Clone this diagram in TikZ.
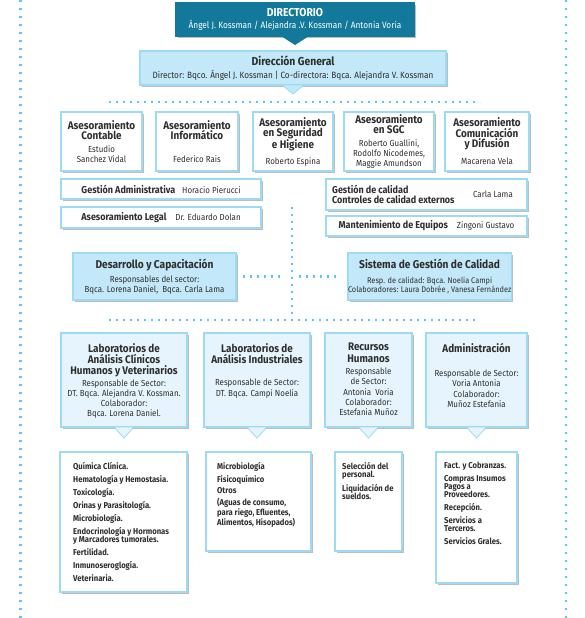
\documentclass[tikz,border=0pt]{standalone}
\usepackage{fontspec}
\setmainfont{Fira Sans}[FakeStretch=0.9]
\usetikzlibrary{positioning,shadows}

\definecolor{dirteal}{HTML}{12799B}
\definecolor{genblue}{HTML}{C3E8F9}
\definecolor{labblue}{HTML}{E6F5FD}
\definecolor{edgeblue}{HTML}{9DDAF4}
\definecolor{dotblue}{HTML}{5DC5F1}
\definecolor{inkgray}{HTML}{2E2E2E}
\definecolor{shadegray}{HTML}{BDBDBD}

\newcommand{\boxtitle}{\fontsize{11}{10.5}\selectfont\bfseries}
\newcommand{\bandtitle}{\fontsize{10}{10.5}\selectfont\bfseries}
\newcommand{\bigtitle}{\fontsize{11.3}{11}\selectfont\bfseries}
\newcommand{\smalltext}{\fontsize{8.2}{9.5}\selectfont}
\newcommand{\listfont}{\fontsize{8.5}{7.8}\selectfont\bfseries\lineskiplimit=-6pt\relax}

\tikzset{
    cardbox/.style = {anchor=north west, draw=edgeblue, line width=1.2pt, fill=white, align=center,
        inner sep=0pt, outer sep=0pt, text=inkgray, font=\fontsize{8.8}{10.3}\selectfont,
        drop shadow={shadow xshift=1.8pt, shadow yshift=-1.8pt, fill=shadegray, opacity=1}},
    headbox/.style = {cardbox, fill=genblue, draw=edgeblue},
    topbox/.style = {cardbox, fill=dirteal, draw=dirteal, text=white},
    labbox/.style = {cardbox, fill=labblue},
    cardtext/.style = {inner sep=0pt, align=center, text=inkgray, font=\fontsize{8.8}{10.3}\selectfont},
    listtext/.style = {anchor=north west, inner sep=0pt, align=left, text=inkgray, font=\listfont},
    dotrule/.style = {draw=dotblue, line width=2.4pt, dash pattern=on 2.4pt off 4.6pt},
    railrule/.style = {draw=dotblue, line width=2.4pt, dash pattern=on 2.4pt off 5.6pt},
    tip/.style = {fill=genblue, draw=edgeblue, line width=0.8pt}
}

\begin{document}
\begin{tikzpicture}[x=1pt, y=-1pt]
\useasboundingbox (0,0) rectangle (585,618);

% side rails
\coordinate (railwt) at (20.5,0);
\coordinate (railwb) at (20.5,618);
\coordinate (railet) at (566,0);
\coordinate (raileb) at (566,618);
\draw[railrule] (railwt) -- (railwb);
\draw[railrule] (railet) -- (raileb);

% directorio and general management
\node[topbox, minimum width=238pt, minimum height=33pt, font=\fontsize{9.2}{10}\selectfont] (dir) at (176,3) {{\fontsize{11.5}{11}\selectfont\bfseries DIRECTORIO}\\[2.5pt]Ángel J. Kossman / Alejandra .V. Kossman / Antonia Voria};
\fill[dirteal] ([xshift=-14pt]dir.south) -- ([xshift=14pt]dir.south) -- ([yshift=-9pt]dir.south) -- cycle;

\node[headbox, minimum width=306pt, minimum height=34pt, font=\fontsize{9.1}{10}\selectfont] (gen) at (140,51) {{\fontsize{11.5}{11}\selectfont\bfseries Dirección General}\\[3pt]Director: Bqco. Ángel J. Kossman | Co-directora: Bqca. Alejandra V. Kossman};
\filldraw[tip] ([xshift=-11pt]gen.south) -- ([xshift=11pt]gen.south) -- ([yshift=-9pt]gen.south) -- cycle;

% top bar
\coordinate (barw) at (109,102);
\coordinate (bare) at (480,102);
\draw[dotrule] (barw) -- (bare);

% advisers
\node[cardbox, minimum width=81pt, minimum height=59pt] (cont) at (61,112) {{\boxtitle Asesoramiento}\\{\boxtitle Contable}\\[2.5pt]Estudio\\Sanchez Vidal};
\node[cardbox, minimum width=82pt, minimum height=59pt] (info) at (156,112) {{\boxtitle Asesoramiento}\\{\boxtitle Informático}\\[12.5pt]Federico Rais};
\node[cardbox, minimum width=80pt, minimum height=59pt] (seg) at (253,112) {{\boxtitle Asesoramiento}\\{\boxtitle en Seguridad}\\{\boxtitle e Higiene}\\[5pt]Roberto Espina};
\node[cardbox, minimum width=90pt, minimum height=59pt] (sgc) at (344,112) {{\boxtitle Asesoramiento}\\{\boxtitle en SGC}\\[2pt]Roberto Guallini,\\Rodolfo Nicodemes,\\Maggie Amundson};
\node[cardbox, minimum width=84pt, minimum height=59pt] (com) at (445,112) {{\boxtitle Asesoramiento}\\{\boxtitle Comunicación}\\{\boxtitle y Difusión}\\[7pt]Macarena Vela};

% management, legal, quality, upkeep
\node[cardbox, minimum width=200pt, minimum height=20pt] (gadm) at (61,179) {{\bandtitle Gestión Administrativa}\hspace{7pt}Horacio Pierucci};
\node[cardbox, minimum width=200pt, minimum height=21pt] (legal) at (61,207) {{\bandtitle Asesoramiento Legal}\hspace{9pt}Dr. Eduardo Dolan};
\node[cardbox, minimum width=201pt, minimum height=31pt] (gcal) at (326,179) {};
\node[cardtext, anchor=west, align=left] (gcal-name) at ([xshift=6pt]gcal.west) {{\bandtitle Gestión de calidad}\\[0.5pt]{\bandtitle Controles de calidad externos}};
\node[cardtext, anchor=east] (gcal-resp) at ([xshift=-14pt]gcal.east) {Carla Lama};
\node[cardbox, minimum width=201pt, minimum height=20pt] (mant) at (326,216) {{\bandtitle Mantenimiento de Equipos}\hspace{9pt}Zingoni Gustavo};

% spine and the two staff units
\coordinate (spinet) at (292,207);
\coordinate (spineb) at (292,315);
\draw[dotrule] (spinet) -- (spineb);

\node[headbox, minimum width=163pt, minimum height=47pt] (des) at (73,253) {{\bigtitle Desarrollo y Capacitación}\\[4pt]Responsables del sector:\\[-1pt]Bqca. Lorena Daniel,\ \ Bqca. Carla Lama};
\node[headbox, minimum width=163pt, minimum height=47pt, font=\smalltext] (sis) at (348,253) {{\bigtitle Sistema de Gestión de Calidad}\\[5pt]Resp. de calidad: Bqca. Noelia Campi\\Colaboradores: Laura Dobrée , Vanesa Fernández};
\draw[dotrule, shorten <=7pt, shorten >=7pt] (des.east) -- (des.east -| spinet);
\draw[dotrule, shorten <=7pt, shorten >=7pt] (sis.west -| spinet) -- (sis.west);

% lower bar
\coordinate (lbarw) at (109,320);
\coordinate (lbare) at (480,320);
\draw[dotrule] (lbarw) -- (lbare);

% departments
\node[labbox, minimum width=126pt, minimum height=94pt] (lab) at (61,333) {};
\node[cardtext, anchor=north] (lab-txt) at ([yshift=-10pt]lab.north) {{\boxtitle Laboratorios de}\\[1pt]{\boxtitle Análisis Clínicos}\\[1pt]{\boxtitle Humanos y Veterinarios}\\[1.5pt]Responsable de Sector:\\DT. Bqca. Alejandra V. Kossman.\\[-1pt]Colaborador:\\Bqca. Lorena Daniel.};
\node[labbox, minimum width=106pt, minimum height=94pt] (ind) at (204,333) {};
\node[cardtext, anchor=north] (ind-txt) at ([yshift=-10pt]ind.north) {{\boxtitle Laboratorios de}\\[1pt]{\boxtitle Análisis Industriales}\\[12pt]Responsable de Sector:\\DT. Bqca. Campi Noelia};
\node[labbox, minimum width=87pt, minimum height=94pt] (rrhh) at (325,333) {};
\node[cardtext, anchor=north] (rrhh-txt) at ([yshift=-10pt]rrhh.north) {{\boxtitle Recursos}\\[1pt]{\boxtitle Humanos}\\[2pt]Responsable\\de Sector:\\Antonia\ \ Voria\\Colaborador:\\Estefania Muñoz};
\node[labbox, minimum width=101pt, minimum height=94pt] (adm) at (426,333) {};
\node[cardtext, anchor=north] (adm-txt) at ([yshift=-10pt]adm.north) {{\boxtitle Administración}\\[14pt]Responsable de Sector:\\Voria Antonia\\Colaborador:\\Muñoz Estefania};

\filldraw[tip, fill=labblue] ([xshift=-10pt]lab.south) -- ([xshift=10pt]lab.south) -- ([yshift=-11pt]lab.south) -- cycle;
\filldraw[tip, fill=labblue] ([xshift=-10pt]ind.south) -- ([xshift=10pt]ind.south) -- ([yshift=-11pt]ind.south) -- cycle;
\filldraw[tip, fill=labblue] ([xshift=-10pt]rrhh.south) -- ([xshift=10pt]rrhh.south) -- ([yshift=-11pt]rrhh.south) -- cycle;
\filldraw[tip, fill=labblue] ([xshift=-10pt]adm.south) -- ([xshift=10pt]adm.south) -- ([yshift=-11pt]adm.south) -- cycle;

% task lists
\node[cardbox, minimum width=127pt, minimum height=140pt] (labl) at (60,452) {};
\node[listtext] (labl-txt) at (73,462) {Química Clínica.\\[5.3pt]Hematología y Hemostasia.\\[5.3pt]Toxicología.\\[5.3pt]Orinas y Parasitología.\\[5.3pt]Microbiología.\\[5.3pt]Endocrinología y Hormonas\\y Marcadores tumorales.\\[5.3pt]Fertilidad.\\[5.3pt]Inmunoseroglogía.\\[5.3pt]Veterinaria.};
\node[cardbox, minimum width=105pt, minimum height=99pt] (indl) at (206,452) {};
\node[listtext] (indl-txt) at (217,462) {Microbiología\\[5.5pt]Fisicoquímico\\[3.5pt]Otros\\[4pt](Aguas de consumo,\\[2.2pt]para riego, Efluentes,\\[2.2pt]Alimentos, Hisopados)};
\node[cardbox, minimum width=67pt, minimum height=99pt] (rrhhl) at (335,452) {};
\node[listtext] (rrhhl-txt) at (342,462) {Selección del\\personal.\\[7pt]Liquidación de\\sueldos.};
\node[cardbox, minimum width=81pt, minimum height=131pt] (adml) at (436,452) {};
\node[listtext] (adml-txt) at (444,462) {Fact. y Cobranzas.\\[5.3pt]Compras Insumos\\Pagos a\\Proveedores.\\[5.3pt]Recepción.\\[5.3pt]Servicios a\\Terceros.\\[5.3pt]Servicios Grales.};
\end{tikzpicture}
\end{document}
